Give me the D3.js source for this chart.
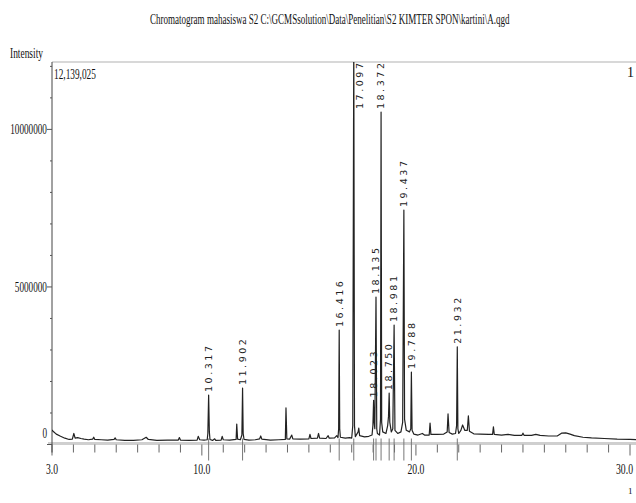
<!DOCTYPE html>
<html><head><meta charset="utf-8">
<script src="https://cdn.jsdelivr.net/npm/d3@7"></script>
<style>html,body{margin:0;padding:0;background:#fff;} svg{display:block;}</style>
</head><body><svg id="c" width="636" height="503"></svg>
<script>
// ---------- data ----------
const chartTitle = "Chromatogram mahasiswa S2  C:\\GCMSsolution\\Data\\Penelitian\\S2 KIMTER SPON\\kartini\\A.qgd";
const yTitle = "Intensity";
const maxIntensityText = "12,139,025";
const maxIntensity = 12139025;
const xTickValues = [3, 10, 20, 30];
const xTickLabels = ["3.0", "10.0", "20.0", "30.0"];
const yTickValues = [0, 5000000, 10000000];
const yTickLabels = ["0", "5000000", "10000000"];

const retentionTimes = [
  3.00, 3.05, 3.2, 3.4, 3.6, 3.8, 3.95, 4.02, 4.08, 4.2, 4.35, 4.5, 4.7, 4.9, 4.95, 5.0,
  5.3, 5.6, 5.9, 5.95, 6.0, 6.4, 6.8, 7.2, 7.4, 7.5, 7.9, 8.4, 8.9, 8.95, 9.0, 9.4,
  9.78, 9.83, 9.9, 10.1, 10.25, 10.28, 10.317, 10.35, 10.38, 10.5, 10.6, 10.65, 10.9, 10.95,
  11.0, 11.3, 11.6, 11.63, 11.67, 11.8, 11.87, 11.902, 11.93, 11.97, 12.2, 12.5, 12.7, 12.75,
  12.8, 13.2, 13.6, 13.9, 13.93, 13.97, 14.1, 14.2, 14.25, 14.6, 15.0, 15.05, 15.1, 15.4,
  15.45, 15.5, 15.8, 15.9, 15.95, 16.2, 16.3, 16.36, 16.39, 16.416, 16.44, 16.47, 16.7, 16.9,
  17.0, 17.05, 17.097, 17.13, 17.17, 17.3, 17.33, 17.37, 17.6, 17.8, 17.95, 17.99, 18.023,
  18.05, 18.08, 18.135, 18.17, 18.2, 18.3, 18.345, 18.372, 18.40, 18.45, 18.6, 18.68, 18.72,
  18.750, 18.78, 18.85, 18.92, 18.981, 19.02, 19.15, 19.3, 19.38, 19.437, 19.47, 19.55, 19.7,
  19.76, 19.788, 19.82, 19.9, 20.1, 20.3, 20.4, 20.62, 20.66, 20.7, 21.0, 21.3, 21.46, 21.5,
  21.55, 21.7, 21.85, 21.9, 21.932, 21.96, 22.0, 22.1, 22.18, 22.28, 22.4, 22.45, 22.5, 22.7,
  23.0, 23.4, 23.58, 23.62, 23.66, 24.0, 24.3, 24.6, 24.95, 25.0, 25.05, 25.4, 25.6, 25.8,
  26.2, 26.6, 26.8, 27.0, 27.2, 27.4, 27.8, 28.2, 28.8, 29.4, 30.0, 30.4
];
const intensities = [
  460000, 420000, 330000, 260000, 200000, 160000, 170000, 350000, 200000, 220000, 190000, 170000, 150000, 170000, 230000, 160000,
  150000, 140000, 160000, 210000, 150000, 130000, 130000, 150000, 230000, 160000, 130000, 140000, 140000, 220000, 140000, 130000,
  140000, 260000, 150000, 140000, 150000, 350000, 1570000, 400000, 160000, 130000, 180000, 130000, 140000, 260000,
  150000, 140000, 160000, 650000, 170000, 150000, 300000, 1790000, 350000, 160000, 140000, 150000, 180000, 270000,
  170000, 140000, 150000, 160000, 1160000, 180000, 170000, 300000, 180000, 170000, 180000, 320000, 190000, 200000,
  350000, 200000, 190000, 280000, 200000, 210000, 280000, 220000, 500000, 3630000, 500000, 230000, 200000, 220000,
  200000, 600000, 13000000, 600000, 250000, 400000, 520000, 280000, 240000, 260000, 300000, 600000, 1400000,
  700000, 500000, 4680000, 500000, 350000, 300000, 800000, 10550000, 700000, 400000, 350000, 600000, 900000,
  1630000, 700000, 400000, 500000, 3790000, 450000, 350000, 400000, 700000, 7440000, 800000, 450000, 400000,
  500000, 2300000, 450000, 330000, 300000, 350000, 300000, 300000, 680000, 320000, 320000, 330000, 400000, 970000,
  380000, 330000, 350000, 600000, 3100000, 500000, 350000, 450000, 620000, 450000, 450000, 910000, 420000, 340000,
  330000, 320000, 320000, 560000, 320000, 300000, 320000, 290000, 290000, 360000, 290000, 290000, 320000, 290000,
  270000, 270000, 360000, 370000, 330000, 280000, 230000, 210000, 190000, 170000, 160000, 150000
];
const peakLabels = ["10.317", "11.902", "16.416", "17.097", "18.023", "18.135", "18.372",
                    "18.750", "18.981", "19.437", "19.788", "21.932"];

// ---------- layout ----------
const svg = d3.select("#c");
const W = 636;
const plotLeft = 52, plotTop = 62, axisY = 444.5, xEnd = 636;

const x = d3.scaleLinear().domain([3, 30]).range([plotLeft, 630]);
const y = d3.scaleLinear().domain([0, maxIntensity]).range([axisY, plotTop]);

const serif = "'Liberation Serif', 'Times New Roman', serif";

// condensed text: natural glyphs squeezed horizontally to a target width
function condensedText(parent, str, px, py, size, width, anchor) {
  const g = parent.append("g");
  const t = g.append("text").attr("font-family", serif).attr("font-size", size)
    .attr("fill", "#111").text(str);
  const natural = t.node().getComputedTextLength();
  const k = width / natural;
  let x0 = px;
  if (anchor === "middle") x0 = px - width / 2;
  if (anchor === "end") x0 = px - width;
  g.attr("transform", `translate(${x0},${py}) scale(${k},1)`);
  return g;
}

// title
condensedText(svg, chartTitle, 330, 24, 14, 360, "middle");
condensedText(svg, yTitle, 10, 58, 15, 33, "start");

// top frame line
svg.append("line").attr("x1", plotLeft).attr("x2", xEnd).attr("y1", plotTop).attr("y2", plotTop)
  .attr("stroke", "#d8d8d8").attr("stroke-width", 2);

condensedText(svg, maxIntensityText, 54, 79, 14, 42, "start");

// x axis band
svg.append("line").attr("x1", plotLeft - 4).attr("x2", xEnd).attr("y1", axisY - 1).attr("y2", axisY - 1)
  .attr("stroke", "#cfcfcf").attr("stroke-width", 3);

// minor x ticks each minute
const minuteTicks = d3.range(3, 31, 1);
svg.append("g").selectAll("line").data(minuteTicks).join("line")
  .attr("x1", d => x(d)).attr("x2", d => x(d))
  .attr("y1", axisY).attr("y2", d => xTickValues.includes(d) ? axisY + 11 : axisY + 8)
  .attr("stroke", "#666").attr("stroke-width", 1);

// x tick labels (kept inside the page at the right edge)
xTickValues.forEach((d, i) => {
  const w = xTickLabels[i].length > 3 ? 17 : 12;
  const cx = Math.min(x(d), W - w / 2 - 3);
  condensedText(svg, xTickLabels[i], cx, 474, 15, w, "middle");
});

// y axis
svg.append("line").attr("x1", plotLeft).attr("x2", plotLeft).attr("y1", plotTop).attr("y2", axisY + 8)
  .attr("stroke", "#444").attr("stroke-width", 1);
const yMinor = d3.range(0, 12000001, 1000000);
svg.append("g").selectAll("line").data(yMinor).join("line")
  .attr("x1", d => yTickValues.includes(d) ? plotLeft - 5 : plotLeft - 2).attr("x2", plotLeft)
  .attr("y1", d => y(d)).attr("y2", d => y(d))
  .attr("stroke", "#555").attr("stroke-width", 1);
yTickValues.forEach((d, i) => {
  const yy = Math.min(y(d), axisY - 12) + 5;
  condensedText(svg, yTickLabels[i], 47, yy, 14, yTickLabels[i].length * 4.6, "end");
});

// clip
svg.append("clipPath").attr("id", "plotclip").append("rect")
  .attr("x", plotLeft).attr("y", plotTop).attr("width", xEnd - plotLeft).attr("height", axisY - plotTop + 2);

const pts = retentionTimes.map((t, i) => [t, intensities[i]]);
const line = d3.line().x(d => x(d[0])).y(d => y(d[1]));

// peak markers below axis
const peakTimes = peakLabels.map(s => +s);
svg.append("g").selectAll("line").data(peakTimes).join("line")
  .attr("x1", d => x(d)).attr("x2", d => x(d))
  .attr("y1", axisY - 6).attr("y2", axisY + 16)
  .attr("stroke", "#777").attr("stroke-width", 1);

svg.append("path").datum(pts).attr("d", line)
  .attr("clip-path", "url(#plotclip)")
  .attr("fill", "none").attr("stroke", "#222").attr("stroke-width", 1.2)
  .attr("stroke-linejoin", "round");

// peak labels
const labelLen = 46;
const lg = svg.append("g");
peakLabels.forEach(lbl => {
  const t = +lbl;
  const idx = retentionTimes.findIndex(v => Math.abs(v - t) < 1e-6);
  const apexY = y(intensities[idx]);
  let px = x(t), py = apexY - 3;
  if (py - labelLen < plotTop + 1) { px = x(t) + 6; py = plotTop + 1 + labelLen; }
  lg.append("text")
    .attr("transform", `translate(${px},${py}) rotate(-90)`)
    .attr("dy", "0.35em")
    .attr("font-family", "'DejaVu Sans', sans-serif").attr("font-size", 9.5)
    .attr("fill", "#222")
    .attr("textLength", labelLen).attr("lengthAdjust", "spacing")
    .text(lbl);
});

// clipped corner marks
svg.append("text").attr("x", 627).attr("y", 77).attr("font-family", serif)
  .attr("font-size", 14).attr("fill", "#111").text("1");
svg.append("text").attr("x", 628).attr("y", 494).attr("font-family", serif)
  .attr("font-size", 9).attr("fill", "#111").text("1");
</script></body></html>
